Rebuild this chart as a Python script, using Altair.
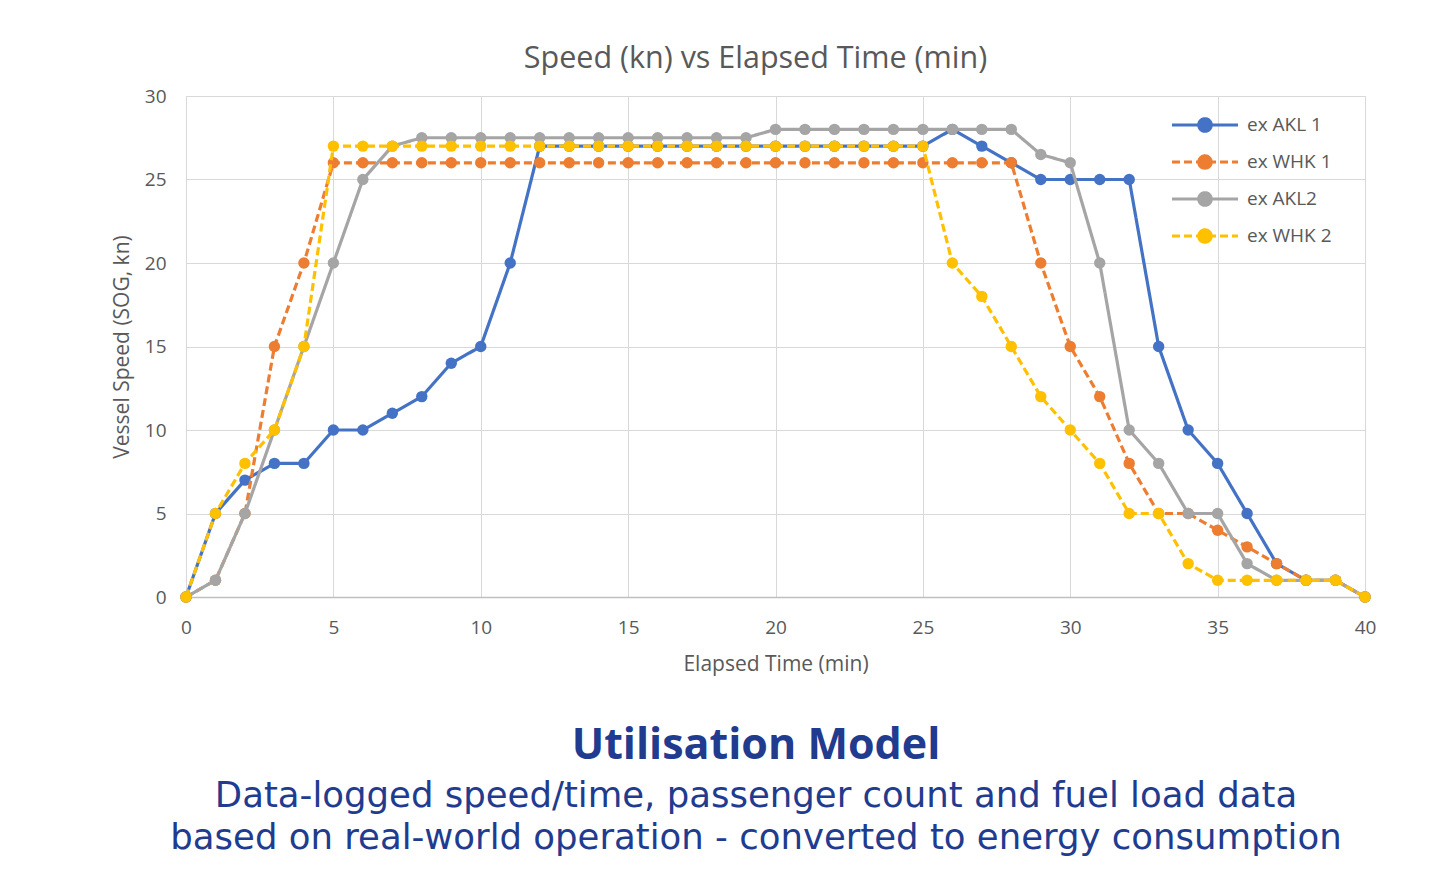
import altair as alt
import pandas as pd
import math

# ---- data ----
minutes = list(range(41))
series_names = ["ex AKL 1", "ex WHK 1", "ex AKL2", "ex WHK 2"]
akl1 = [0, 5, 7, 8, 8, 10, 10, 11, 12, 14, 15, 20, 27, 27, 27, 27, 27, 27, 27, 27, 27,
        27, 27, 27, 27, 27, 28, 27, 26, 25, 25, 25, 25, 15, 10, 8, 5, 2, 1, 1, 0]
whk1 = [0, 1, 5, 15, 20, 26, 26, 26, 26, 26, 26, 26, 26, 26, 26, 26, 26, 26, 26, 26, 26,
        26, 26, 26, 26, 26, 26, 26, 26, 20, 15, 12, 8, 5, 5, 4, 3, 2, 1, 1, 0]
akl2 = [0, 1, 5, 10, 15, 20, 25, 27, 27.5, 27.5, 27.5, 27.5, 27.5, 27.5, 27.5, 27.5, 27.5,
        27.5, 27.5, 27.5, 28, 28, 28, 28, 28, 28, 28, 28, 28, 26.5, 26, 20, 10, 8, 5, 5, 2,
        1, 1, 1, 0]
whk2 = [0, 5, 8, 10, 15, 27, 27, 27, 27, 27, 27, 27, 27, 27, 27, 27, 27, 27, 27, 27, 27,
        27, 27, 27, 27, 27, 20, 18, 15, 12, 10, 8, 5, 5, 2, 1, 1, 1, 1, 1, 0]
x_ticks = [0, 5, 10, 15, 20, 25, 30, 35, 40]
y_ticks = [0, 5, 10, 15, 20, 25, 30]

chart_title = "Speed (kn) vs Elapsed Time (min)"
x_title = "Elapsed Time (min)"
y_title = "Vessel Speed (SOG, kn)"
caption_head = "Utilisation Model"
caption_lines = ["Data-logged speed/time, passenger count and fuel load data",
                 "based on real-world operation - converted to energy consumption"]

colors = ["#4472C4", "#ED7D31", "#A5A5A5", "#FFC000"]
dashes = [[1, 0], [8, 4], [1, 0], [8, 4]]

rows = []
for name, vals in zip(series_names, [akl1, whk1, akl2, whk2]):
    for t, v in zip(minutes, vals):
        rows.append({"t": t, "speed": v, "series": name})
df = pd.DataFrame(rows)

W, H = 1179, 501
LABEL_FONT = "Open Sans"
GREY = "#595959"

xenc = alt.X("t:Q", scale=alt.Scale(domain=[0, 40], nice=False),
             axis=alt.Axis(values=x_ticks, title=x_title, grid=True, gridColor="#D9D9D9",
                           domainColor="#BFBFBF", domainWidth=1.3, ticks=False,
                           labelFlush=False,
                           labelFontSize=19, labelColor=GREY, labelFont=LABEL_FONT,
                           labelPadding=21, titleFontSize=21, titleColor=GREY,
                           titleFont=LABEL_FONT, titleFontWeight="normal", titlePadding=16))
yenc = alt.Y("speed:Q", scale=alt.Scale(domain=[0, 30], nice=False),
             axis=alt.Axis(values=y_ticks, title=y_title, grid=True, gridColor="#D9D9D9",
                           domain=False, ticks=False, labelFlush=False, labelFontSize=19,
                           labelColor=GREY, labelFont=LABEL_FONT, labelPadding=20,
                           titleFontSize=21, titleColor=GREY, titleFont=LABEL_FONT,
                           titleFontWeight="normal", titlePadding=12))

# legend symbol: a line with a dot in the middle (unit = 10 px with size 400).
# The dot's outline is also drawn as short separate arcs so that a dash pattern
# (which restarts on every sub-path) leaves it solid.
r = 0.62
a = 3.3
parts = [f"M-{a},0L{a},0", f"M-{r},0A{r},{r} 0 1,0 {r},0A{r},{r} 0 1,0 -{r},0Z"]
n_arc = 8
for k in range(n_arc):
    a0 = 2 * math.pi * k / n_arc
    a1 = 2 * math.pi * (k + 1) / n_arc
    parts.append(f"M{r*math.cos(a0):.3f},{r*math.sin(a0):.3f}"
                 f"A{r},{r} 0 0,1 {r*math.cos(a1):.3f},{r*math.sin(a1):.3f}")
legend_path = "".join(parts)

legend = alt.Legend(title=None, orient="none", legendX=1007, legendY=17,
                    symbolType=legend_path, symbolSize=400, symbolStrokeWidth=3.2,
                    labelFontSize=19, labelColor=GREY, labelFont=LABEL_FONT,
                    labelOffset=30, rowPadding=11, padding=0)

color_enc = alt.Color("series:N", scale=alt.Scale(domain=series_names, range=colors),
                      legend=legend)
dash_enc = alt.StrokeDash("series:N", scale=alt.Scale(domain=series_names, range=dashes),
                          legend=legend)

layers = []
base = alt.Chart(df)
for name in series_names:
    sub = base.transform_filter(alt.datum.series == name)
    layers.append(sub.mark_line(strokeWidth=3.2).encode(x=xenc, y=yenc, color=color_enc,
                                                        strokeDash=dash_enc))
    layers.append(sub.mark_point(filled=True, size=130, opacity=1).encode(
        x=xenc, y=yenc, color=color_enc))

NAVY = "#213B8F"
head = alt.Chart(pd.DataFrame({"txt": [caption_head]})).mark_text(
    font="Open Sans", fontSize=43, fontWeight="bold", color=NAVY, baseline="middle",
    align="center").encode(text="txt:N", x=alt.value(570), y=alt.value(650))
line1 = alt.Chart(pd.DataFrame({"txt": [caption_lines[0]]})).mark_text(
    font="DejaVu Sans", fontSize=35.5, color=NAVY, baseline="middle",
    align="center").encode(text="txt:N", x=alt.value(570), y=alt.value(700))
line2 = alt.Chart(pd.DataFrame({"txt": [caption_lines[1]]})).mark_text(
    font="DejaVu Sans", fontSize=35.5, color=NAVY, baseline="middle",
    align="center").encode(text="txt:N", x=alt.value(570), y=alt.value(742))

chart = alt.layer(*layers, head, line1, line2).properties(
    width=W, height=H,
    title=alt.TitleParams(chart_title, fontSize=30.5, color=GREY, font=LABEL_FONT,
                          fontWeight="normal", offset=13, dx=-20),
    autosize=alt.AutoSizeParams(type="none"),
    padding={"left": 178, "top": 88, "right": 60, "bottom": 265},
).configure_view(stroke=None).configure(background="white")

chart.save("out.html", embed_options={"renderer": "svg", "actions": False})
